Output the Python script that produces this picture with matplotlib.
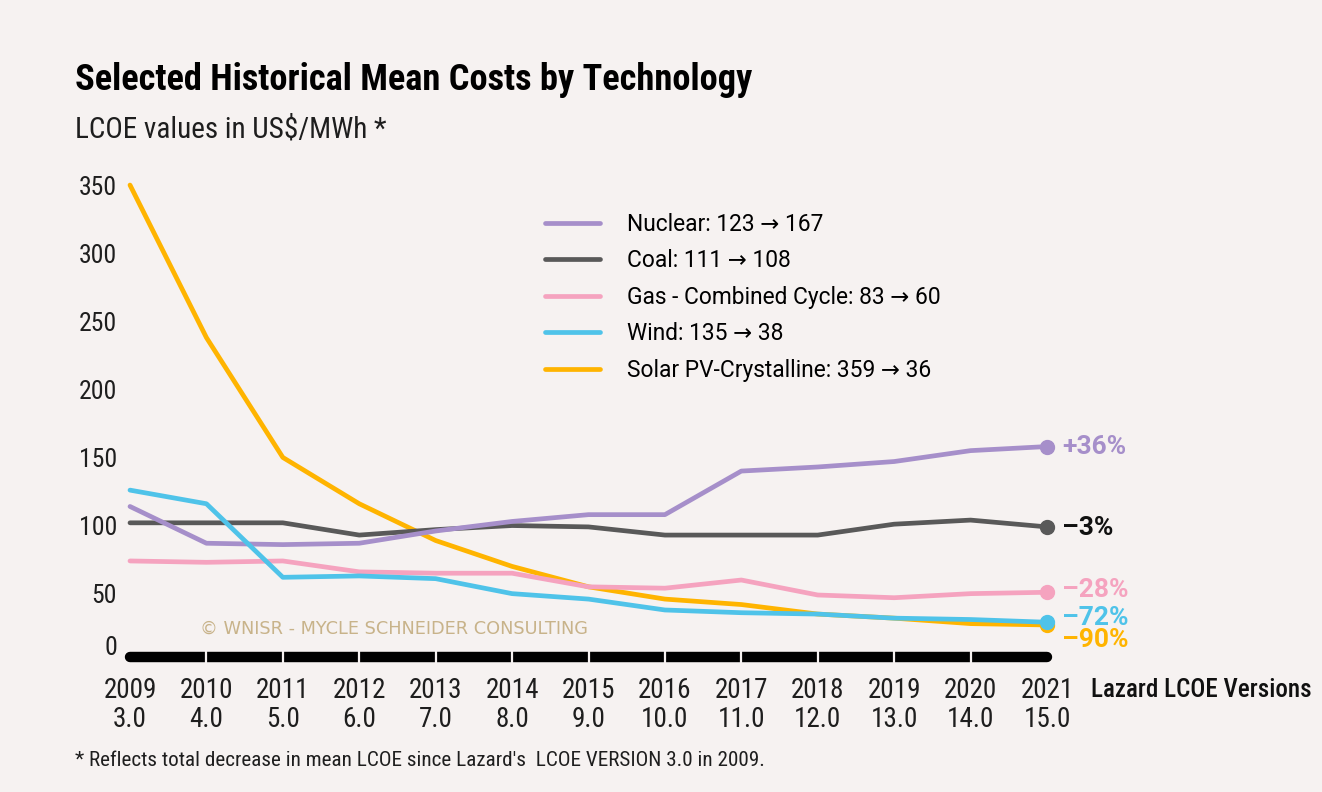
import matplotlib
matplotlib.use("Agg")
import matplotlib.pyplot as plt
from matplotlib.transforms import ScaledTranslation

# data: mean LCOE (US$/MWh) per Lazard version
years = [2009, 2010, 2011, 2012, 2013, 2014, 2015, 2016, 2017, 2018, 2019, 2020, 2021]
versions = ["3.0", "4.0", "5.0", "6.0", "7.0", "8.0", "9.0", "10.0", "11.0", "12.0", "13.0", "14.0", "15.0"]

nuclear = [123, 96, 95, 96, 105, 112, 117, 117, 149, 152, 156, 164, 167]
coal = [111, 111, 111, 102, 106, 109, 108, 102, 102, 102, 110, 113, 108]
gas = [83, 82, 83, 75, 74, 74, 64, 63, 69, 58, 56, 59, 60]
wind = [135, 125, 71, 72, 70, 59, 55, 47, 45, 44, 41, 40, 38]
solar = [359, 247, 159, 125, 98, 79, 64, 55, 51, 44, 41, 37, 36]

labels = ["Nuclear: 123 \u2192 167", "Coal: 111 \u2192 108", "Gas - Combined Cycle: 83 \u2192 60",
          "Wind: 135 \u2192 38", "Solar PV-Crystalline: 359 \u2192 36"]
changes = ["+36%", "\u20133%", "\u201328%", "\u201372%", "\u201390%"]
yticks = [50, 100, 150, 200, 250, 300, 350]

colors = ["#a68fca", "#595959", "#f5a3bf", "#4fc3e9", "#ffb400"]
label_colors = ["#a68fca", "#111111", "#f5a3bf", "#4fc3e9", "#ffb400"]

bg = "#f6f2f1"
cond = ["Roboto Condensed", "Roboto", "DejaVu Sans"]
wide = ["Roboto", "DejaVu Sans"]
plt.rcParams["font.family"] = cond

W, H = 1322, 792
fig = plt.figure(figsize=(W / 100, H / 100), dpi=100, facecolor=bg)

# axes placed in pixels
ax_l, ax_r, ax_t, ax_b = 121, 1067, 170, 662
ax = fig.add_axes([ax_l / W, 1 - ax_b / H, (ax_r - ax_l) / W, (ax_b - ax_t) / H])
ax.set_facecolor(bg)

series = [nuclear, coal, gas, wind, solar]
# solar drawn first so wind sits on top at the end, as in the original
order = [4, 2, 1, 0, 3]
handles = [None] * 5
for i in order:
    (ln,) = ax.plot(years, series[i], color=colors[i], lw=3.4, label=labels[i],
                    solid_joinstyle="round", solid_capstyle="round", zorder=3)
    handles[i] = ln
    ax.plot(years[-1], series[i][-1], "o", color=colors[i], ms=10, zorder=4, clip_on=False)

# end labels
offsets = [0, -1, 2, 3, -11]
for i in range(5):
    ax.annotate(changes[i], (years[-1], series[i][-1]), xytext=(11, offsets[i]),
                textcoords="offset points", va="center", ha="left", fontsize=19,
                fontweight="bold", color=label_colors[i], annotation_clip=False,
                family=wide)

# segmented black base bar
bar_y = 12.5
ax.plot([years[0], years[-1]], [bar_y, bar_y], color="black", lw=7.5,
        solid_capstyle="round", clip_on=False, zorder=2)
ax.vlines(years[1:-1], bar_y - 4.5, bar_y + 4.5, color=bg, lw=1.6, clip_on=False, zorder=2.5)

for s in ax.spines.values():
    s.set_visible(False)

ax.set_yticks(yticks)
ax.set_yticklabels([str(v) for v in yticks])
ax.tick_params(axis="y", length=0, pad=3, labelsize=18.5, labelcolor="#1e1e1e")
for t in ax.get_yticklabels():
    t.set_transform(t.get_transform() + ScaledTranslation(0, 12 / 100, fig.dpi_scale_trans))

ax.set_xticks(years)
ax.set_xticklabels([f"{y}\n{v}" for y, v in zip(years, versions)], linespacing=1.08)
ax.tick_params(axis="x", length=0, pad=11, labelsize=19.5, labelcolor="#1e1e1e")

# limits after the ticks (set_ticks would widen the view)
pxy = 76.42
ax.set_xlim(2009 - (130 - ax_l) / pxy, 2021 + (ax_r - 1047) / pxy)
ax.set_ylim((674 - ax_b) / 1.362, (674 - ax_t) / 1.362)

# the zero label sits above the base bar
ax.annotate("0", xy=(0, 0), xycoords=("axes fraction", "data"), xytext=(-3, 18.7),
            textcoords="offset points", ha="right", va="center", fontsize=18.5,
            color="#1e1e1e", annotation_clip=False)

fig.text(1091 / W, 1 - 690 / H, "Lazard LCOE Versions", fontsize=18, color="#111111",
         va="center", ha="left", fontweight="medium")

ax.legend(handles=handles, loc="upper left", bbox_to_anchor=(545 / W, 1 - 213 / H),
          bbox_transform=fig.transFigure, frameon=False, prop={"family": wide, "size": 16.4},
          handlelength=2.42, handletextpad=1.19, labelspacing=0.59, borderpad=0, borderaxespad=0)

fig.text(200 / W, 1 - 629 / H, "\u00a9 WNISR - MYCLE SCHNEIDER CONSULTING", fontsize=12.8,
         color="#c8b38a", va="center", ha="left", family=["DejaVu Sans"])

fig.text(75 / W, 1 - 80 / H, "Selected Historical Mean Costs by Technology", fontsize=26.2,
         fontweight="bold", color="black", va="center", ha="left")
fig.text(75 / W, 1 - 130 / H, "LCOE values in US$/MWh *", fontsize=21, color="#1e1e1e",
         va="center", ha="left")
fig.text(75 / W, 1 - 760 / H, "* Reflects total decrease in mean LCOE since Lazard's  LCOE VERSION 3.0 in 2009.",
         fontsize=15.2, color="#1e1e1e", va="center", ha="left")

fig.savefig("out.png", dpi=100, facecolor=bg)
